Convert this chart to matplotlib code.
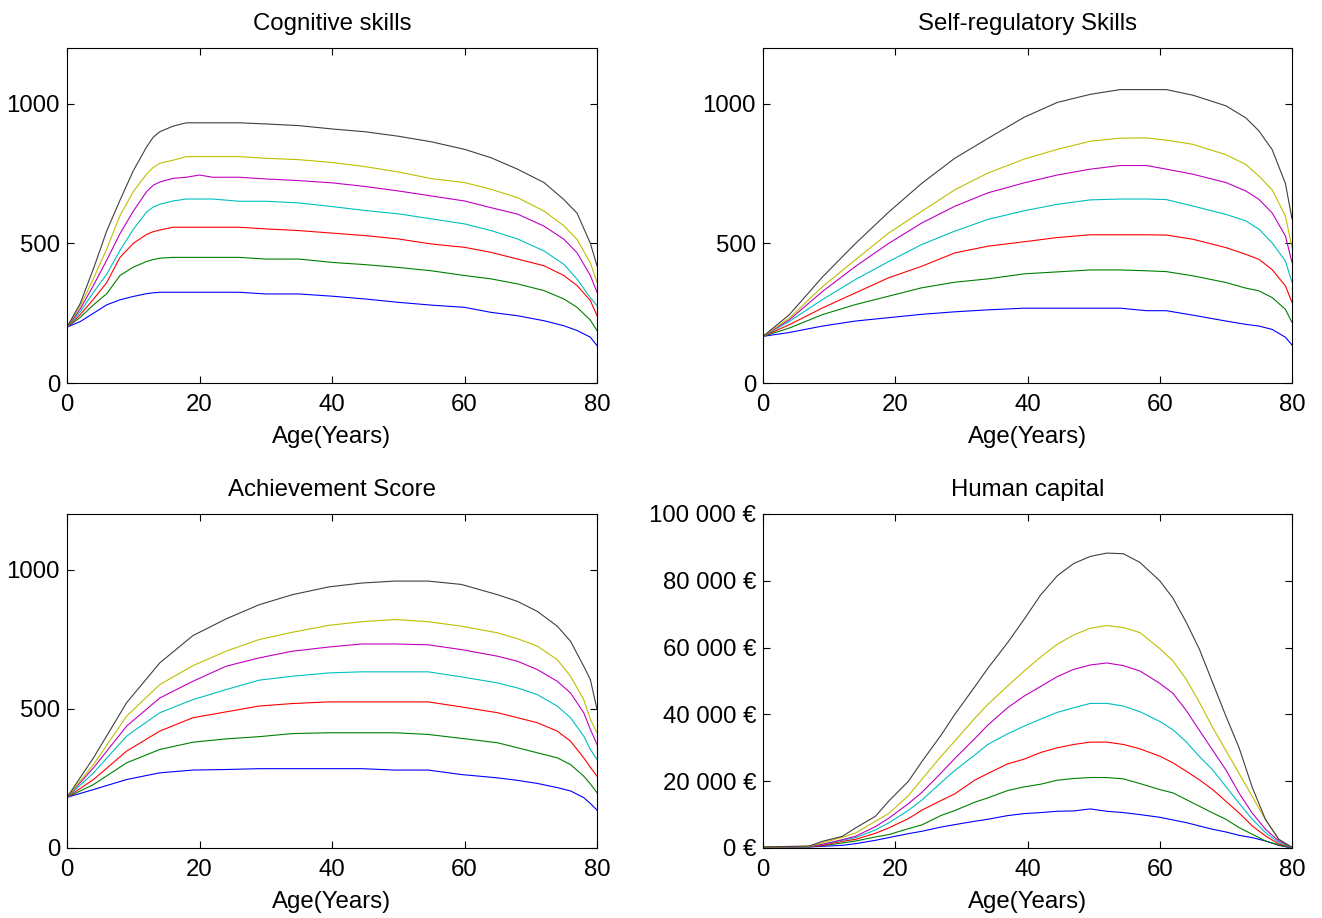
import matplotlib
matplotlib.use("Agg")
import matplotlib.pyplot as plt
from matplotlib.ticker import FuncFormatter

plt.rcParams['font.family'] = ['Liberation Sans', 'DejaVu Sans']

# ---------------- data ----------------
series_colors = [(0, 0, 1), (0, 0.5, 0), (1, 0, 0), (0, 0.75, 0.75),
                 (0.75, 0, 0.75), (0.75, 0.75, 0), (0.25, 0.25, 0.25)]
series_names = ['level 1', 'level 2', 'level 3', 'level 4', 'level 5', 'level 6', 'level 7']

# Cognitive skills
cog_age = [0, 2, 4, 6, 8, 10, 12, 13, 14, 16, 18, 20, 22, 26, 30, 35, 40, 45, 50, 55, 60, 64, 68, 72, 75, 77, 79, 80]
cog_blue = [200, 220, 250, 280, 298, 310, 320, 323, 325, 325, 325, 325, 325, 325, 319, 319, 311, 301, 289, 279, 271, 253, 241, 223, 205, 188, 164, 134]
cog_green = [200, 235, 280, 320, 385, 415, 435, 442, 447, 450, 450, 450, 450, 450, 444, 444, 432, 424, 414, 402, 385, 373, 355, 331, 301, 271, 225, 188]
cog_red = [200, 245, 300, 360, 450, 500, 532, 542, 548, 558, 558, 558, 558, 558, 552, 546, 537, 528, 516, 498, 486, 468, 444, 420, 385, 349, 295, 241]
cog_cyan = [200, 255, 325, 390, 475, 550, 612, 630, 640, 652, 659, 659, 659, 651, 651, 645, 632, 618, 606, 588, 570, 546, 516, 473, 425, 372, 305, 277]
cog_magenta = [200, 265, 350, 440, 535, 615, 685, 708, 720, 733, 737, 745, 737, 737, 731, 725, 717, 704, 688, 670, 652, 628, 605, 562, 515, 466, 385, 325]
cog_yellow = [200, 275, 375, 480, 600, 685, 748, 772, 787, 798, 811, 811, 811, 811, 805, 800, 790, 775, 756, 732, 718, 694, 664, 616, 563, 514, 430, 361]
cog_black = [200, 285, 410, 545, 655, 760, 845, 880, 900, 920, 932, 932, 932, 932, 928, 922, 910, 900, 884, 864, 837, 807, 766, 718, 657, 608, 500, 420]

# Self-regulatory skills
self_age = [0, 4, 9, 14, 19, 24, 29, 34, 39.5, 44.5, 49.5, 54, 58, 61, 65, 70, 73, 75, 77, 79, 80]
self_blue = [167, 181, 204, 222, 234, 246, 255, 262, 268, 268, 268, 268, 259, 259, 243, 222, 210, 204, 192, 164, 136]
self_green = [167, 197, 245, 281, 311, 341, 361, 373, 391, 398, 405, 405, 402, 399, 384, 360, 340, 330, 306, 264, 217]
self_red = [167, 209, 269, 323, 377, 418, 466, 490, 506, 521, 531, 531, 531, 530, 515, 485, 461, 443, 406, 348, 289]
self_cyan = [167, 221, 299, 371, 435, 496, 544, 586, 617, 640, 656, 659, 659, 657, 634, 604, 581, 551, 502, 437, 361]
self_magenta = [167, 227, 328, 418, 500, 573, 633, 681, 717, 745, 766, 779, 779, 766, 748, 718, 688, 658, 609, 527, 432]
self_yellow = [167, 233, 345, 442, 537, 615, 692, 752, 802, 837, 866, 877, 878, 870, 855, 818, 783, 741, 692, 598, 486]
self_black = [167, 245, 380, 500, 612, 715, 805, 876, 952, 1005, 1034, 1051, 1051, 1051, 1031, 993, 950, 903, 836, 715, 588]

# Achievement score
ach_age = [0, 4, 9, 14, 19, 24, 29, 34, 39.5, 44.5, 49.5, 54.5, 59.5, 65, 68, 71, 74, 76, 78, 79, 80]
ach_blue = [182, 210, 246, 270, 280, 282, 285, 285, 285, 285, 280, 280, 264, 252, 243, 232, 217, 205, 181, 160, 136]
ach_green = [182, 228, 306, 354, 380, 392, 400, 411, 414, 414, 414, 408, 394, 378, 360, 342, 324, 300, 258, 230, 199]
ach_red = [182, 246, 348, 420, 468, 489, 510, 519, 525, 525, 525, 525, 507, 486, 468, 450, 420, 384, 324, 290, 258]
ach_cyan = [182, 270, 402, 486, 533, 569, 603, 617, 629, 633, 633, 633, 615, 593, 575, 551, 510, 468, 402, 354, 318]
ach_magenta = [182, 288, 438, 539, 599, 653, 683, 707, 722, 733, 733, 730, 713, 689, 671, 641, 599, 557, 486, 426, 372]
ach_yellow = [182, 300, 474, 587, 655, 707, 749, 775, 800, 813, 821, 813, 797, 773, 752, 725, 677, 617, 533, 462, 414]
ach_black = [182, 324, 522, 665, 763, 823, 874, 910, 938, 952, 959, 959, 947, 910, 886, 850, 797, 743, 653, 605, 498]

# Human capital (EUR)
hc_age = [0, 7, 9, 12, 14, 17, 19, 22, 24, 27, 29, 32, 34, 37, 39.5, 42, 44.5, 47, 49.5, 52, 54.5, 57, 60, 62, 64, 66, 68, 70, 72, 74, 76, 78, 80]
hc_blue = [300, 300, 500, 800, 1300, 2300, 3100, 4300, 5000, 6300, 7000, 8000, 8600, 9700, 10300, 10600, 11000, 11100, 11700, 11000, 10600, 10000, 9200, 8400, 7600, 6600, 5600, 4800, 3800, 3100, 2100, 800, 0]
hc_green = [300, 350, 700, 1500, 2100, 3300, 4000, 5800, 6900, 9800, 11200, 13700, 15000, 17200, 18300, 19100, 20300, 20800, 21100, 21100, 20700, 19300, 17500, 16500, 14500, 12500, 10500, 8600, 6100, 4100, 2100, 900, 100]
hc_red = [300, 400, 800, 2000, 2600, 4400, 6000, 8800, 11300, 14300, 16200, 20300, 22300, 25200, 26600, 28600, 30000, 31000, 31700, 31700, 31000, 29700, 27500, 25500, 23000, 20400, 17500, 14000, 10500, 6600, 3600, 1200, 200]
hc_cyan = [300, 400, 1100, 2300, 3100, 5400, 7500, 11300, 14300, 19700, 23200, 27800, 31000, 34200, 36500, 38600, 40600, 42000, 43300, 43300, 42500, 40800, 37900, 35400, 31800, 27400, 23400, 18400, 13400, 8600, 4600, 1600, 200]
hc_magenta = [300, 450, 1100, 2500, 3500, 6400, 8900, 13300, 16600, 22600, 26800, 32700, 36800, 42000, 45500, 48400, 51300, 53500, 54800, 55400, 54600, 53000, 49300, 46300, 41200, 35200, 29300, 23400, 16400, 10400, 5600, 2100, 200]
hc_yellow = [300, 500, 1600, 3200, 4500, 8000, 10300, 15700, 20500, 27600, 32000, 38800, 43000, 48500, 53000, 57200, 61000, 63800, 65800, 66600, 66000, 64500, 59700, 56000, 50500, 43600, 36100, 29200, 22300, 15400, 8500, 2600, 200]
hc_black = [300, 600, 2000, 3500, 6000, 9500, 14000, 20000, 25800, 34000, 40000, 48200, 53800, 61500, 68500, 75800, 81500, 85200, 87300, 88300, 88100, 85500, 80000, 74800, 67600, 59500, 49500, 39500, 30000, 18100, 8500, 2600, 200]

titles = ['Cognitive skills', 'Self-regulatory Skills', 'Achievement Score', 'Human capital']
x_label = 'Age(Years)'
x_ticks = [0, 20, 40, 60, 80]
skill_ticks = [0, 500, 1000]
hc_ticks = [0, 20000, 40000, 60000, 80000, 100000]

panels = [
    (cog_age, [cog_blue, cog_green, cog_red, cog_cyan, cog_magenta, cog_yellow, cog_black]),
    (self_age, [self_blue, self_green, self_red, self_cyan, self_magenta, self_yellow, self_black]),
    (ach_age, [ach_blue, ach_green, ach_red, ach_cyan, ach_magenta, ach_yellow, ach_black]),
    (hc_age, [hc_blue, hc_green, hc_red, hc_cyan, hc_magenta, hc_yellow, hc_black]),
]

# ---------------- figure ----------------
W, H = 1322, 918
fig = plt.figure(figsize=(W / 100, H / 100), dpi=100)

# axes boxes in pixels: (left, top, right, bottom)
boxes = [(67, 48, 597, 383), (763, 48, 1292, 383), (67, 514, 597, 848), (763, 514, 1292, 848)]

FS = 17.3

def euro(v, pos):
    v = int(round(v))
    if v == 0:
        return '0 €'
    s = f'{v:,}'.replace(',', ' ')
    return s + ' €'

for i, ((ages, ys), box) in enumerate(zip(panels, boxes)):
    l, t, r, b = box
    ax = fig.add_axes([l / W, 1 - b / H, (r - l) / W, (b - t) / H])
    for y, c, n in zip(ys, series_colors, series_names):
        ax.plot(ages, y, color=c, lw=0.8, label=n)
    ax.set_xlim(0, 80)
    ax.set_xticks(x_ticks)
    if i < 3:
        ax.set_ylim(0, 1200)
        ax.set_yticks(skill_ticks)
    else:
        ax.set_ylim(0, 100000)
        ax.set_yticks(hc_ticks)
        ax.yaxis.set_major_formatter(FuncFormatter(euro))
    ax.set_title(titles[i], fontsize=FS, pad=13)
    ax.set_xlabel(x_label, fontsize=FS, labelpad=7)
    ax.tick_params(direction='in', top=True, right=True, length=5, width=0.8,
                   labelsize=FS)
    ax.tick_params(axis='x', pad=8)
    ax.tick_params(axis='y', pad=5)
    for sp in ax.spines.values():
        sp.set_linewidth(0.8)

fig.savefig('out.png', dpi=100)
